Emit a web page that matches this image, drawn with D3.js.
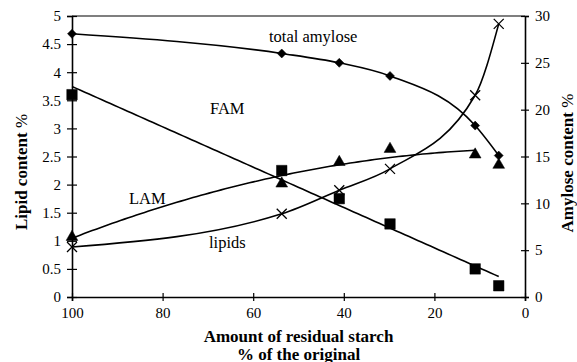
<!DOCTYPE html>
<html lang="en">
<head>
<meta charset="UTF-8">
<title>Lipid and amylose content vs residual starch</title>
<script src="https://cdn.jsdelivr.net/npm/d3@7"></script>
<style>
  body { margin: 0; background: #fff; }
  text { font-family: "Liberation Serif", "Times New Roman", serif; fill: #000; }
</style>
</head>
<body>
<svg id="main" width="577" height="362"></svg>
<script>
    // values
    const residual      = [100, 53.7, 41, 29.8, 11, 5.8];
    const totalAmylose  = [28.1, 26.0, 25.0, 23.6, 18.3, 15.1];   // right axis
    const fam           = [21.6, 13.5, 10.5, 7.8, 3.0, 1.2];      // right axis
    const lam           = [6.4, 12.1, 14.4, 15.8, 15.2, 14.1];    // right axis
    const lipids        = [0.89, 1.48, 1.9, 2.28, 3.59, 4.86];    // left axis
    const leftTicks  = [0, 0.5, 1, 1.5, 2, 2.5, 3, 3.5, 4, 4.5, 5];
    const rightTicks = [0, 5, 10, 15, 20, 25, 30];
    const xTicks     = [100, 80, 60, 40, 20, 0];

    const m = {left: 72, right: 52, top: 16, bottom: 65};
    const W = 577, H = 362;
    const svg = d3.select('#main');

    const x = d3.scaleLinear().domain([100, 0]).range([m.left, W - m.right]);
    const yL = d3.scaleLinear().domain([0, 5]).range([H - m.bottom, m.top]);
    const yR = d3.scaleLinear().domain([0, 30]).range([H - m.bottom, m.top]);

    // least squares polynomial trend (like a spreadsheet trendline)
    function polyfit(xs, ys, deg) {
        const n = deg + 1;
        const A = [];
        for (let i = 0; i < n; i++) {
            A.push(new Array(n + 1).fill(0));
        }
        xs.forEach((xv, k) => {
            const t = xv / 100;
            for (let i = 0; i < n; i++) {
                for (let j = 0; j < n; j++) A[i][j] += Math.pow(t, i + j);
                A[i][n] += ys[k] * Math.pow(t, i);
            }
        });
        for (let c = 0; c < n; c++) {
            let p = c;
            for (let r = c + 1; r < n; r++) if (Math.abs(A[r][c]) > Math.abs(A[p][c])) p = r;
            [A[c], A[p]] = [A[p], A[c]];
            for (let r = 0; r < n; r++) {
                if (r === c) continue;
                const f = A[r][c] / A[c][c];
                for (let j = c; j <= n; j++) A[r][j] -= f * A[c][j];
            }
        }
        const coef = A.map((row, i) => row[n] / row[i]);
        return xv => coef.reduce((s, c, i) => s + c * Math.pow(xv / 100, i), 0);
    }

    function trend(xs, ys, deg, yScale) {
        const f = polyfit(xs, ys, deg);
        const lo = d3.min(xs), hi = d3.max(xs);
        const pts = d3.range(0, 101).map(i => hi - (hi - lo) * i / 100);
        svg.append('path')
            .datum(pts)
            .attr('d', d3.line().x(d => x(d)).y(d => yScale(f(d))))
            .attr('fill', 'none')
            .attr('stroke', 'black')
            .attr('stroke-width', 1.6);
    }

    // smooth line through the points
    function smooth(ys, yScale) {
        svg.append('path')
            .datum(residual.map((d, i) => [d, ys[i]]))
            .attr('d', d3.line().x(d => x(d[0])).y(d => yScale(d[1])).curve(d3.curveMonotoneX))
            .attr('fill', 'none')
            .attr('stroke', 'black')
            .attr('stroke-width', 1.6);
    }

    // frame top line
    svg.append('line')
        .attr('x1', x(100)).attr('x2', x(0))
        .attr('y1', yL(5)).attr('y2', yL(5))
        .attr('stroke', 'black').attr('stroke-width', 1.2);

    // axes
    const gL = svg.append('g').attr('transform', `translate(${x(100)},0)`)
        .call(d3.axisLeft(yL).tickValues(leftTicks).tickSize(5).tickPadding(6).tickFormat(d3.format('')));
    gL.selectAll('.tick line').attr('x1', 5);
    const gR = svg.append('g').attr('transform', `translate(${x(0)},0)`)
        .call(d3.axisRight(yR).tickValues(rightTicks).tickSize(4).tickPadding(6));
    gR.selectAll('.tick line').attr('x1', -4);
    const gX = svg.append('g').attr('transform', `translate(0,${yL(0)})`)
        .call(d3.axisBottom(x).tickValues(xTicks).tickSize(4).tickPadding(6));
    gX.selectAll('.tick line').attr('y1', -4);

    [gL, gR, gX].forEach(g => {
        g.attr('font-family', '"Liberation Serif", serif').attr('font-size', 15);
        g.select('.domain').attr('stroke', 'black').attr('stroke-width', 1.6);
        g.selectAll('.tick line').attr('stroke', 'black').attr('stroke-width', 1.2);
        g.selectAll('.tick text')
            .style('font-family', '"Liberation Serif", serif')
            .style('font-size', '15px').attr('fill', 'black');
    });

    // trend lines
    smooth(totalAmylose, yR);
    trend(residual, fam, 1, yR);
    trend(residual.slice(0, 5), lam.slice(0, 5), 2, yR);
    smooth(lipids, yL);

    // markers
    const sym = (type, size) => d3.symbol().type(type).size(size)();
    function markers(ys, yScale, type, size, rotate) {
        svg.append('g').selectAll('path')
            .data(residual.map((d, i) => [d, ys[i]]))
            .join('path')
            .attr('transform', d => `translate(${x(d[0])},${yScale(d[1])})${rotate ? ' rotate(45)' : ''}`)
            .attr('d', sym(type, size))
            .attr('fill', 'black')
            .attr('stroke', 'black')
            .attr('stroke-width', 0.5);
    }
    markers(totalAmylose, yR, d3.symbolSquare, 40, true);
    markers(fam, yR, d3.symbolSquare, 110, false);
    markers(lam, yR, d3.symbolTriangle, 60, false);

    // x-shaped markers for lipids
    svg.append('g').selectAll('path')
        .data(residual.map((d, i) => [d, lipids[i]]))
        .join('path')
        .attr('d', d => {
            const cx = x(d[0]), cy = yL(d[1]), r = 5;
            return `M${cx - r},${cy - r}L${cx + r},${cy + r}M${cx - r},${cy + r}L${cx + r},${cy - r}`;
        })
        .attr('stroke', 'black').attr('stroke-width', 1.3);

    // series labels
    const lab = (t, lx, ly) => svg.append('text').attr('x', lx).attr('y', ly)
        .style('font-size', '16.5px').text(t);
    lab('total amylose', 269, 42);
    lab('FAM', 210, 114);
    lab('LAM', 129, 204);
    lab('lipids', 209, 248);

    // axis titles
    svg.append('text').attr('x', (x(100) + x(0)) / 2).attr('y', 342)
        .attr('text-anchor', 'middle').style('font-size', '17px').style('font-weight', 'bold')
        .text('Amount of residual starch');
    svg.append('text').attr('x', (x(100) + x(0)) / 2).attr('y', 360)
        .attr('text-anchor', 'middle').style('font-size', '17px').style('font-weight', 'bold')
        .text('% of the original');

    const tl = svg.append('text').attr('transform', 'translate(27,172) rotate(-90)')
        .attr('text-anchor', 'middle').style('font-size', '17px').style('font-weight', 'bold');
    tl.append('tspan').text('Lipid content ');
    tl.append('tspan').style('font-weight', 'normal').text('%');

    const tr = svg.append('text').attr('transform', 'translate(573,163) rotate(-90)')
        .attr('text-anchor', 'middle').style('font-size', '17px').style('font-weight', 'bold');
    tr.append('tspan').text('Amylose content ');
    tr.append('tspan').style('font-weight', 'normal').text('%');
</script>
</body>
</html>
